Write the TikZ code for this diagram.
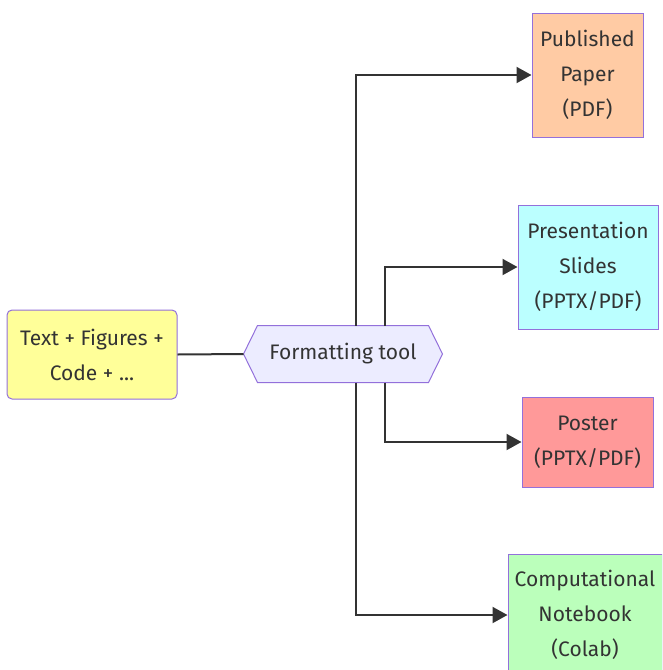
\documentclass[tikz,border=0pt]{standalone}
\usepackage{fontspec}
\setmainfont{Fira Sans}
\usetikzlibrary{arrows.meta,calc}
\definecolor{edgeline}{HTML}{9370DB}
\definecolor{ink}{HTML}{333333}
\definecolor{srcfill}{HTML}{FFFF99}
\definecolor{fmtfill}{HTML}{ECECFF}
\definecolor{paperfill}{HTML}{FFCBA4}
\definecolor{slidefill}{HTML}{BBFFFF}
\definecolor{posterfill}{HTML}{FF9999}
\definecolor{nbfill}{HTML}{BBFFBB}
\tikzset{
  label text/.style={text=ink, font=\fontsize{21}{35}\selectfont},
  box/.style={draw=edgeline, line width=1pt, label text, align=center, inner sep=0pt},
  link/.style={draw=ink, line width=2pt},
  arr/.style={link, -{Triangle[length=15pt,width=16pt]}},
}
\begin{document}
\begin{tikzpicture}[x=1pt,y=-1pt]
\useasboundingbox (0,0) rectangle (662,670);
\clip (0,0) rectangle (662,670);
% source and target boxes
\node[box, fill=srcfill, rounded corners=5pt, minimum width=170pt, minimum height=89pt] (src) at (92,354.5) {Text + Figures +\\Code + ...};
\node[box, fill=paperfill, minimum width=111pt, minimum height=124pt] (paper) at (587.5,75) {Published\\Paper\\(PDF)};
\node[box, fill=slidefill, minimum width=140pt, minimum height=124pt] (slides) at (588,267) {Presentation\\Slides\\(PPTX/PDF)};
\node[box, fill=posterfill, minimum width=131pt, minimum height=90pt] (poster) at (587.5,442) {Poster\\(PPTX/PDF)};
\node[box, fill=nbfill, minimum width=154pt, minimum height=122pt] (nb) at (585,615) {Computational\\Notebook\\(Colab)};
% hexagonal formatting node
\node[box, draw=none, minimum width=198pt, minimum height=56pt] (fmt) at (343,354) {};
\filldraw[draw=edgeline, fill=fmtfill, line width=1pt]
  (fmt.west) -- ($(fmt.north west)+(14,0)$) -- ($(fmt.north east)+(-14,0)$)
  -- (fmt.east) -- ($(fmt.south east)+(-14,0)$) -- ($(fmt.south west)+(14,0)$) -- cycle;
\node[label text] at (fmt.center) {Formatting tool};
% connectors
\draw[link] (src.east) -- (fmt.west);
\draw[arr] ([xshift=13pt]fmt.north) |- (paper.west);
\draw[arr] ([xshift=42pt]fmt.north) |- (slides.west);
\draw[arr] ([xshift=42pt]fmt.south) |- (poster.west);
\draw[arr] ([xshift=13pt]fmt.south) |- (nb.west);
\end{tikzpicture}
\end{document}
